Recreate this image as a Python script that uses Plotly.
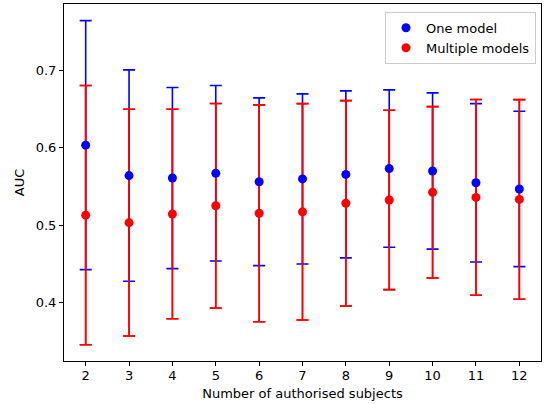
import plotly.graph_objects as go

subjects = [2, 3, 4, 5, 6, 7, 8, 9, 10, 11, 12]

one_model_mean = [0.6033, 0.5640, 0.5608, 0.5670, 0.5560, 0.5597, 0.5655, 0.5730, 0.5699, 0.5547, 0.5467]
one_model_err = [0.1607, 0.1365, 0.1169, 0.1132, 0.1083, 0.1098, 0.1078, 0.1016, 0.1009, 0.1022, 0.1003]

multi_model_mean = [0.5129, 0.5032, 0.5144, 0.5250, 0.5153, 0.5172, 0.5282, 0.5325, 0.5424, 0.5358, 0.5332]
multi_model_err = [0.1674, 0.1464, 0.1352, 0.1320, 0.1400, 0.1397, 0.1326, 0.1158, 0.1106, 0.1264, 0.1289]

x_ticks = [2, 3, 4, 5, 6, 7, 8, 9, 10, 11, 12]
y_ticks = [0.4, 0.5, 0.6, 0.7]

FONT = "DejaVu Sans"

fig = go.Figure()

# error bars first (so markers sit above all bars, as in the reference)
def bars(y, err, color, repeat=1):
    for _ in range(repeat):
        fig.add_trace(go.Scatter(
            x=subjects, y=y, mode="none", showlegend=False, hoverinfo="skip",
            error_y=dict(type="data", array=err, visible=True,
                         color=color, thickness=1.6, width=6),
        ))

bars(one_model_mean, one_model_err, "blue")
bars(multi_model_mean, multi_model_err, "red", repeat=2)

fig.add_trace(go.Scatter(
    x=subjects, y=one_model_mean, mode="markers", name="One model",
    marker=dict(color="blue", size=9),
))
fig.add_trace(go.Scatter(
    x=subjects, y=multi_model_mean, mode="markers", name="Multiple models",
    marker=dict(color="red", size=9),
))

axis_common = dict(
    showline=True, mirror=True, linecolor="black", linewidth=1,
    ticks="outside", ticklen=4, tickwidth=1, tickcolor="black",
    showgrid=False, zeroline=False,
    tickfont=dict(family=FONT, size=13, color="black"),
)

fig.update_layout(
    width=544, height=404,
    margin=dict(l=64, r=3, t=4, b=43),
    paper_bgcolor="white", plot_bgcolor="white",
    font=dict(family=FONT, size=13, color="black"),
    xaxis=dict(range=[1.5, 12.5], tickmode="array", tickvals=x_ticks,
               ticklabelstandoff=-2,
               title=dict(text="Number of authorised subjects", standoff=7,
                          font=dict(family=FONT, size=13)),
               **axis_common),
    yaxis=dict(range=[0.3246, 0.7855], tickmode="array", tickvals=y_ticks,
               ticktext=[str(v) for v in y_ticks],
               title=dict(text="AUC", standoff=8, font=dict(family=FONT, size=13)),
               **axis_common),
    legend=dict(x=0.9895, xanchor="right", y=0.978, yanchor="top",
                bgcolor="rgba(255,255,255,0.8)", bordercolor="#cccccc", borderwidth=1,
                tracegroupgap=0,
                font=dict(family=FONT, size=13)),
    showlegend=True,
)

fig.write_html("out.html", config={"displayModeBar": False},
               post_script="document.body.style.margin='0';")
